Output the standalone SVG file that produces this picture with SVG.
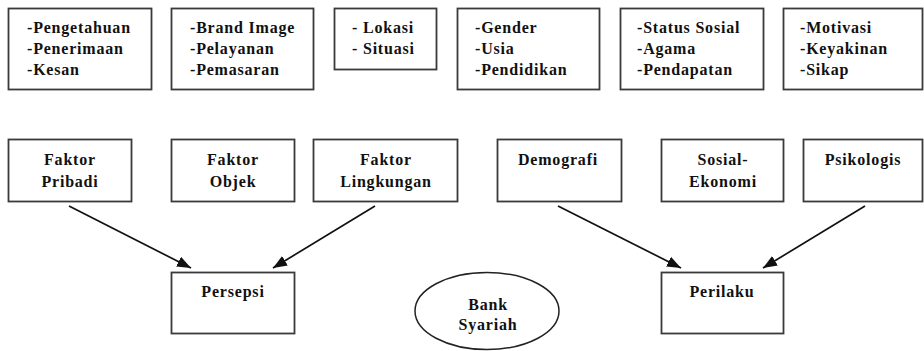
<svg xmlns="http://www.w3.org/2000/svg" width="924" height="351" viewBox="0 0 924 351">
<defs>
<style>
.box{fill:#fff;stroke:#3a3a3a;stroke-width:1.8}
.t{font-family:"Liberation Serif","Times New Roman",Times,serif;font-weight:bold;font-size:16px;letter-spacing:0.8px;fill:#111}
.c{text-anchor:middle}
.edge{stroke:#111;stroke-width:1.7;fill:none;marker-end:url(#ah)}
</style>
<marker id="ah" viewBox="0 0 14 11" refX="14" refY="5.5" markerWidth="14" markerHeight="11" markerUnits="userSpaceOnUse" orient="auto">
<path d="M0,0 L14,5.5 L0,11 Z" fill="#111"/>
</marker>
</defs>
<rect width="924" height="351" fill="#fff"/>

<g id="top1"><rect class="box" x="8.5" y="8.5" width="143" height="81"/>
<text class="t" x="27" y="33">-Pengetahuan</text><text class="t" x="27" y="54">-Penerimaan</text><text class="t" x="27" y="75">-Kesan</text></g>
<g id="top2"><rect class="box" x="171.5" y="8.5" width="142" height="81"/>
<text class="t" x="190" y="33">-Brand Image</text><text class="t" x="190" y="54">-Pelayanan</text><text class="t" x="190" y="75">-Pemasaran</text></g>
<g id="top3"><rect class="box" x="334.5" y="8.5" width="102" height="61"/>
<text class="t" x="352" y="33">- Lokasi</text><text class="t" x="352" y="54">- Situasi</text></g>
<g id="top4"><rect class="box" x="457.5" y="8.5" width="142" height="81"/>
<text class="t" x="475" y="33">-Gender</text><text class="t" x="475" y="54">-Usia</text><text class="t" x="475" y="75">-Pendidikan</text></g>
<g id="top5"><rect class="box" x="620.5" y="8.5" width="143" height="81"/>
<text class="t" x="637" y="33">-Status Sosial</text><text class="t" x="637" y="54">-Agama</text><text class="t" x="637" y="75">-Pendapatan</text></g>
<g id="top6"><rect class="box" x="783.5" y="8.5" width="139" height="81"/>
<text class="t" x="800" y="33">-Motivasi</text><text class="t" x="800" y="54">-Keyakinan</text><text class="t" x="800" y="75">-Sikap</text></g>

<g id="faktor-pribadi"><rect class="box" x="8.5" y="139.5" width="123" height="62"/>
<text class="t c" x="70" y="165">Faktor</text><text class="t c" x="70" y="187">Pribadi</text></g>
<g id="faktor-objek"><rect class="box" x="171.5" y="139.5" width="123" height="62"/>
<text class="t c" x="233" y="165">Faktor</text><text class="t c" x="233" y="187">Objek</text></g>
<g id="faktor-lingkungan"><rect class="box" x="313.5" y="139.5" width="144" height="62"/>
<text class="t c" x="386" y="165">Faktor</text><text class="t c" x="386" y="187">Lingkungan</text></g>
<g id="demografi"><rect class="box" x="497.5" y="139.5" width="124" height="62"/>
<text class="t c" x="558" y="165">Demografi</text></g>
<g id="sosial-ekonomi"><rect class="box" x="661.5" y="139.5" width="122" height="62"/>
<text class="t c" x="723" y="165">Sosial-</text><text class="t c" x="723" y="187">Ekonomi</text></g>
<g id="psikologis"><rect class="box" x="803.5" y="139.5" width="119" height="62"/>
<text class="t c" x="863" y="165">Psikologis</text></g>

<g id="persepsi"><rect class="box" x="171.5" y="272.5" width="123" height="61"/>
<text class="t c" x="233" y="297">Persepsi</text></g>
<g id="perilaku"><rect class="box" x="661.5" y="272.5" width="122" height="61"/>
<text class="t c" x="722" y="297">Perilaku</text></g>
<g id="bank-syariah"><ellipse cx="487" cy="311" rx="72" ry="38.5" fill="#fff" stroke="#222" stroke-width="1.5"/>
<text class="t c" x="488" y="310">Bank</text><text class="t c" x="488" y="330">Syariah</text></g>

<g id="connectors">
<line class="edge" x1="69" y1="206" x2="191" y2="268"/>
<line class="edge" x1="375" y1="206" x2="273" y2="268"/>
<line class="edge" x1="558" y1="206" x2="681" y2="268"/>
<line class="edge" x1="865" y1="206" x2="763" y2="268"/>
</g>
</svg>
